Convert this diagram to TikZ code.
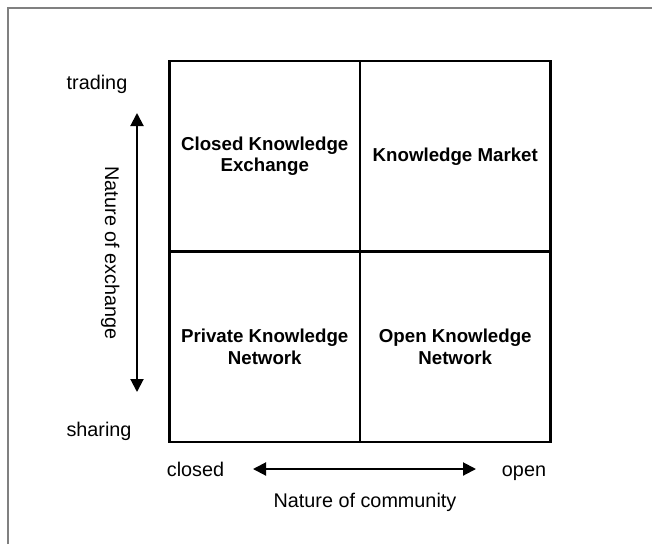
\documentclass[tikz,border=0pt]{standalone}
\usepackage{fontspec}
\setmainfont{Liberation Sans}
\usetikzlibrary{arrows.meta}
\usetikzlibrary{positioning}
\tikzset{cell/.style = {draw, line width=2.6, minimum size=190.5, inner sep=0, outer sep=0,
                        align=center, font=\fontsize{18.7}{21.5}\selectfont\bfseries}}
\tikzset{lbl/.style = {font=\fontsize{19.8}{24}\selectfont, inner sep=0}}
\tikzset{axis/.style = {line width=2,
                        {Triangle[length=13pt,width=13pt]}-{Triangle[length=13pt,width=13pt]}}}

\begin{document}
\begin{tikzpicture}[x=1pt, y=-1pt]
      \useasboundingbox (0,0) rectangle (652,544);
      \draw [gray, line width=2] (8,544) -- (8,8) -- (652,8);

      \node [cell] (ce) at (264.75,156.25) {Closed Knowledge\\Exchange};
      \node [cell, right=0 of ce] (km) {Knowledge Market};
      \node [cell, below=0 of ce] (pn) {Private Knowledge\\Network};
      \node [cell, right=0 of pn] (on) {Open Knowledge\\Network};

      \node [lbl, anchor=base] (tr) at (97,89) {trading};
      \node [lbl, anchor=base] (sh) at (99,436) {sharing};
      \node [lbl, anchor=base, rotate=-90] (ne) at (105,253) {Nature of exchange};
      \coordinate (ex top) at (137,113);
      \coordinate (ex bot) at (137,392);
      \draw [axis] (ex top) -- (ex bot);

      \node [lbl, anchor=base] (cl) at (195.5,476) {closed};
      \node [lbl, anchor=base] (op) at (524,476) {open};
      \node [lbl, anchor=base] (nc) at (365,507) {Nature of community};
      \coordinate (cm left) at (253,469);
      \coordinate (cm right) at (476,469);
      \draw [axis] (cm left) -- (cm right);
    \end{tikzpicture}
\end{document}
